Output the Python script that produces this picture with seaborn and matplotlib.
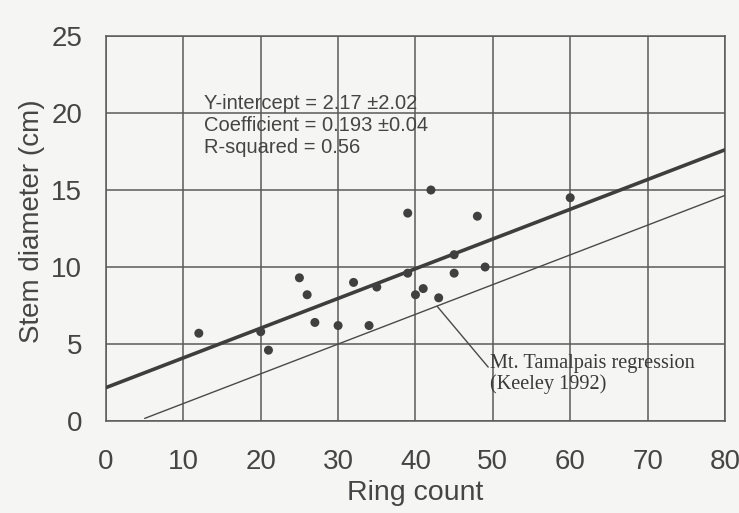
import matplotlib
matplotlib.use("Agg")
import matplotlib.pyplot as plt
import seaborn as sns
import numpy as np
import pandas as pd

# Ring counts and stem diameters of sampled stems
ring_count = [12, 20, 21, 25, 26, 27, 30, 32, 34, 35, 39, 39, 40, 41, 42, 43, 45, 45, 48, 49, 60]
stem_diam = [5.7, 5.8, 4.6, 9.3, 8.2, 6.4, 6.2, 9.0, 6.2, 8.7, 13.5, 9.6, 8.2, 8.6, 15.0, 8.0, 10.8, 9.6, 13.3, 10.0, 14.5]

# Fitted regression
intercept = 2.17
intercept_se = 2.02
coefficient = 0.193
coefficient_se = 0.04
r_squared = 0.56

# Published Mt. Tamalpais regression line (end points)
tam_x = [5, 80]
tam_y = [0.17, 14.65]

x_ticks = [0, 10, 20, 30, 40, 50, 60, 70, 80]
y_ticks = [0, 5, 10, 15, 20, 25]

sns.set_style("white")
plt.rcParams["font.family"] = ["Liberation Sans", "DejaVu Sans"]

ink = "#454545"
rule = "#5a5a5a"
paper = "#f5f5f3"

fig = plt.figure(figsize=(7.39, 5.13), dpi=100, facecolor=paper)
ax = fig.add_axes([0.1434, 0.1793, 0.8376, 0.7505])
ax.set_facecolor(paper)

# Grid drawn beneath the data
for xv in x_ticks:
    ax.axvline(xv, color=rule, lw=1.1, zorder=0)
for yv in y_ticks:
    ax.axhline(yv, color=rule, lw=1.1, zorder=0)

fit_x = np.array([0, 80])
fit_df = pd.DataFrame({"x": fit_x, "y": intercept + coefficient * fit_x})
sns.lineplot(data=fit_df, x="x", y="y", color="#3e3e3e", lw=2.6, ax=ax, zorder=3)

tam_df = pd.DataFrame({"x": tam_x, "y": tam_y})
sns.lineplot(data=tam_df, x="x", y="y", color="#4a4a4a", lw=1.0, ax=ax, zorder=3)

pts = pd.DataFrame({"rings": ring_count, "diam": stem_diam})
sns.scatterplot(data=pts, x="rings", y="diam", color="#404040", s=42,
                edgecolor="none", ax=ax, zorder=4)

ax.set_xlim(0, 80)
ax.set_ylim(0, 25)
ax.set_xticks(x_ticks)
ax.set_yticks(y_ticks)
ax.tick_params(axis="both", direction="out", length=6, width=1.1, color=rule,
               labelsize=20, labelcolor=ink)
ax.tick_params(axis="x", pad=14)
ax.tick_params(axis="y", pad=11)
for sp in ax.spines.values():
    sp.set_color(rule)
    sp.set_linewidth(1.1)

ax.set_xlabel("Ring count", fontsize=20.5, color=ink, labelpad=4)
ax.set_ylabel("Stem diameter (cm)", fontsize=20, color=ink)
ax.yaxis.set_label_coords(-0.098, 0.518)

stats = [
    f"Y-intercept = {intercept:.2f} \u00b1{intercept_se:.2f}",
    f"Coefficient = {coefficient:.3f} \u00b1{coefficient_se:.2f}",
    f"R-squared = {r_squared:.2f}",
]
for i, line in enumerate(stats):
    ax.text(12.7, 20.65 - 1.46 * i, line, fontsize=14.5, color=ink, va="center", ha="left")

# Leader from the published line to its label
ax.plot([42.8, 49.4], [7.45, 3.5], color="#4a4a4a", lw=1.0, zorder=5)
ax.text(49.6, 4.35, "Mt. Tamalpais regression\n(Keeley 1992)",
        fontsize=14.6, family=["Liberation Serif", "DejaVu Serif"], color="#3a3a3a",
        ha="left", va="top", linespacing=1.1, zorder=5)

if ax.get_legend() is not None:
    ax.get_legend().remove()

fig.savefig("out.png", dpi=100, facecolor=paper)
